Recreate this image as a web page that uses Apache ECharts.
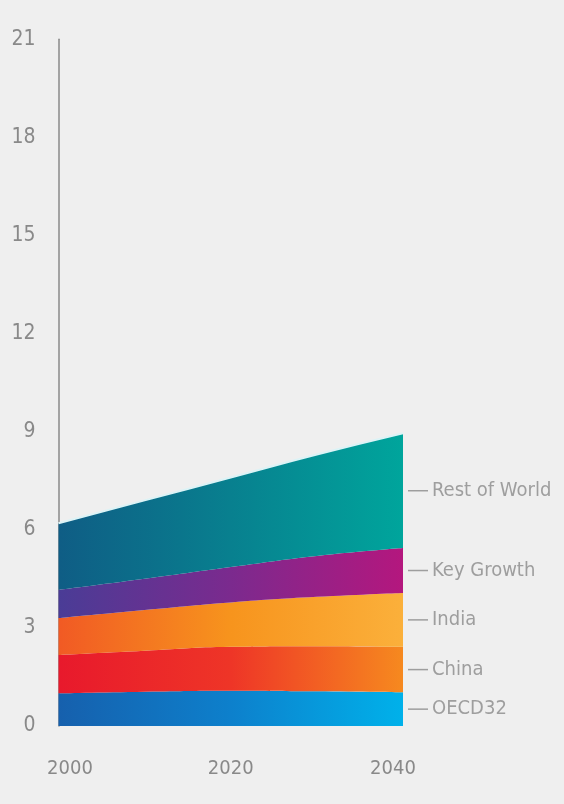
<!DOCTYPE html>
<html>
<head>
<meta charset="utf-8">
<script src="https://cdn.jsdelivr.net/npm/echarts@6/dist/echarts.min.js"></script>
<style>
  html, body { margin: 0; padding: 0; background: #efefef; }
  #chart { width: 564px; height: 804px; }
</style>
</head>
<body>
<div id="chart"></div>
<script>
// Projected demand by region, stacked (units on the value axis)
const years = ['2000', '2010', '2020', '2030', '2040'];
const oecd32 = [1.0, 1.05, 1.08, 1.06, 1.03];
const china = [1.17, 1.25, 1.34, 1.38, 1.39];
const india = [1.13, 1.25, 1.36, 1.51, 1.65];
const keyGrowth = [0.86, 0.95, 1.08, 1.25, 1.37];
const restOfWorld = [2.04, 2.4, 2.74, 3.1, 3.51];
const regionNames = ['OECD32', 'China', 'India', 'Key Growth', 'Rest of World'];
const yTicks = [0, 3, 6, 9, 12, 15, 18, 21];

const regionValues = [oecd32, china, india, keyGrowth, restOfWorld];
const gradients = [
  ['#1660ad', '#0d80cc', '#00b1ea'],
  ['#e8192c', '#ee3527', '#f6891f'],
  ['#f15a24', '#f7941d', '#fbb03b'],
  ['#4a3c96', '#7b2a8e', '#b4177e'],
  ['#0f5d85', '#08808f', '#00a59c']
];

const font = "'Liberation Sans Narrow', 'DejaVu Sans Condensed', sans-serif";
const textColor = '#898989';

function hGradient(c) {
  return new echarts.graphic.LinearGradient(0, 0, 1, 0, [
    { offset: 0, color: c[0] },
    { offset: 0.5, color: c[1] },
    { offset: 1, color: c[2] }
  ]);
}

const areaSeries = regionNames.map((name, i) => ({
  name: name,
  type: 'line',
  stack: 'total',
  smooth: true,
  symbol: 'none',
  lineStyle: i === regionNames.length - 1
    ? { width: 2, color: '#dcf3f6' }
    : { width: 0 },
  areaStyle: { color: hGradient(gradients[i]), opacity: 1 },
  data: regionValues[i],
  z: 2
}));

// Band midpoints at the last year, for the region labels on the right
const last = years.length - 1;
let base = 0;
const labelPoints = regionNames.map((name, i) => {
  const v = regionValues[i][last];
  const mid = base + v / 2;
  base += v;
  return { name: name, value: [years[last], mid] };
});

const labelSeries = {
  type: 'scatter',
  symbol: 'rect',
  symbolSize: [20, 1.5],
  symbolOffset: [15, 0],
  itemStyle: { color: '#8a8a8a' },
  silent: true,
  z: 3,
  label: {
    show: true,
    position: 'right',
    distance: 4,
    formatter: p => p.name,
    color: textColor,
    fontFamily: font,
    fontSize: 20
  },
  data: labelPoints
};

const chart = echarts.init(document.getElementById('chart'), null, { renderer: 'canvas' });
chart.setOption({
  backgroundColor: '#efefef',
  animation: false,
  grid: { left: 58.5, right: 161, top: 39.3, bottom: 78 },
  xAxis: {
    type: 'category',
    data: years,
    boundaryGap: false,
    axisLine: { show: false },
    axisTick: { show: false },
    splitLine: { show: false },
    axisLabel: {
      interval: 1,
      margin: 33,
      color: textColor,
      fontFamily: font,
      fontSize: 20,
      formatter: (v, idx) => idx === 0 ? '{first|' + v + '}'
        : idx === last ? '{end|' + v + '}' : v,
      rich: {
        first: { color: textColor, fontFamily: font, fontSize: 20, padding: [0, 0, 0, 23] },
        end: { color: textColor, fontFamily: font, fontSize: 20, padding: [0, 20, 0, 0] }
      }
    }
  },
  yAxis: {
    type: 'value',
    min: yTicks[0],
    max: yTicks[yTicks.length - 1],
    interval: 3,
    axisLine: { show: true, lineStyle: { color: '#8a8a8a', width: 1.5 } },
    axisTick: { show: false },
    splitLine: { show: false },
    axisLabel: {
      margin: 23,
      color: textColor,
      fontFamily: font,
      fontSize: 21
    }
  },
  series: areaSeries.concat([labelSeries])
});
</script>
</body>
</html>
